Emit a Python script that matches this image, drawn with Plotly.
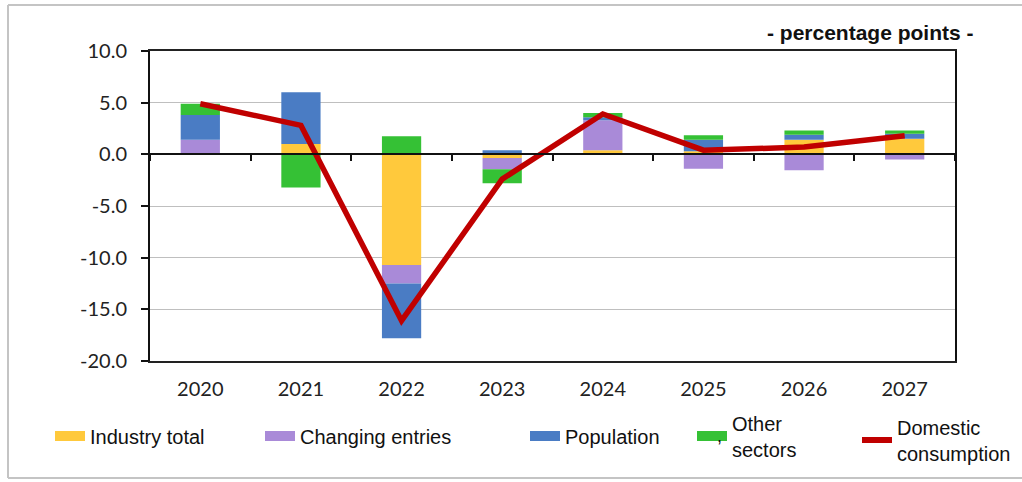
import plotly.graph_objects as go

years = ["2020", "2021", "2022", "2023", "2024", "2025", "2026", "2027"]
industry_total = [0.0, 1.0, -10.7, -0.35, 0.4, 0.3, 1.4, 1.5]
changing_entries = [1.4, 0.0, -1.8, -1.1, 2.9, -1.4, -1.55, -0.5]
population = [2.4, 5.0, -5.3, 0.4, 0.3, 1.1, 0.5, 0.5]
other_sectors = [1.1, -3.2, 1.75, -1.35, 0.4, 0.45, 0.4, 0.3]
domestic_consumption = [4.9, 2.8, -16.1, -2.4, 3.9, 0.4, 0.7, 1.8]

y_ticks = [10, 5, 0, -5, -10, -15, -20]
y_tick_labels = [f"{v:.1f}" for v in y_ticks]

names = ["Industry total", "Changing entries", "Population", "Other<br>sectors",
         "Domestic<br>consumption"]
colors = ["#FFC93C", "#A98AD8", "#4A7CC4", "#35C135", "#C00000"]

W, H = 1022, 482
L, R, T, B = 150, 955, 51, 361


def px_x(p):
    return (p - L) / (R - L)


def px_y(p):
    return (B - p) / (B - T)


fig = go.Figure()
series = [industry_total, changing_entries, population, other_sectors]
for vals, nm, col in zip(series, names[:4], colors[:4]):
    fig.add_trace(go.Bar(x=years, y=vals, name=nm.replace("<br>", " "),
                         marker=dict(color=col, line=dict(width=0)),
                         showlegend=False))

fig.add_trace(go.Scatter(x=years, y=domestic_consumption, mode="lines",
                         name="Domestic consumption", xaxis="x2",
                         line=dict(color=colors[4], width=5.5),
                         showlegend=False))

# legend entries
leg_left_px = [50, 260, 525, 692, 857]
leg_mid_px = [436, 436, 436, 436, 440]
leg_widths = [10, 10, 10, 10, 6]
layout_legends = {}
for i, (nm, col) in enumerate(zip(names, colors)):
    key = "legend" if i == 0 else f"legend{i + 1}"
    fig.add_trace(go.Scatter(x=[None], y=[None], mode="lines", name=nm,
                             line=dict(color=col, width=leg_widths[i]),
                             legend=key, showlegend=True, hoverinfo="skip"))
    layout_legends[key] = dict(
        x=px_x(leg_left_px[i]), y=px_y(leg_mid_px[i]),
        xanchor="left", yanchor="middle", orientation="h",
        bgcolor="rgba(0,0,0,0)", borderwidth=0,
        font=dict(family="Liberation Sans, Arial", size=20, color="#111111"),
    )

frame = dict(color="#C4C4C4", width=2)
fig.update_layout(
    width=W, height=H,
    margin=dict(l=L, r=W - R, t=T, b=H - B, pad=0, autoexpand=False),
    paper_bgcolor="white", plot_bgcolor="white",
    barmode="relative", bargap=0.61,
    xaxis=dict(type="category", showline=True, linecolor="#222222", linewidth=2,
               mirror=True, ticks="", showgrid=False,
               tickfont=dict(family="Lato", size=20, color="#222222"),
               ticklabelstandoff=9),
    xaxis2=dict(type="category", overlaying="x", matches="x", anchor="free",
                position=(0 - y_ticks[-1]) / (y_ticks[0] - y_ticks[-1]),
                side="bottom", showline=True, linecolor="#111111", linewidth=2,
                ticks="outside", tickson="boundaries", ticklen=6, tickwidth=2,
                tickcolor="#111111", showticklabels=False, showgrid=False),
    yaxis=dict(range=[y_ticks[-1], y_ticks[0]], tickvals=y_ticks,
               ticktext=y_tick_labels,
               showline=True, linecolor="#111111", linewidth=2, mirror=True,
               ticks="outside", ticklen=7, tickwidth=2, tickcolor="#111111",
               showgrid=True, gridcolor="#BFBFBF", gridwidth=1, zeroline=False,
               tickfont=dict(family="Lato", size=20, color="#222222"),
               ticklabelstandoff=10),
    annotations=[
        dict(text="<b>- percentage points -</b>", xref="paper", yref="paper",
             x=px_x(976), y=px_y(32), xanchor="right", yanchor="middle",
             showarrow=False,
             font=dict(family="Liberation Sans, Arial", size=21, color="#111111")),
        dict(text=",", xref="paper", yref="paper", x=px_x(719), y=px_y(436),
             xanchor="center", yanchor="middle", showarrow=False,
             font=dict(family="Liberation Sans, Arial", size=18, color="#111111")),
    ],
    shapes=[
        dict(type="line", xref="paper", yref="paper", x0=px_x(8), x1=px_x(1022),
             y0=px_y(5), y1=px_y(5), line=frame, layer="below"),
        dict(type="line", xref="paper", yref="paper", x0=px_x(8), x1=px_x(1022),
             y0=px_y(478), y1=px_y(478), line=frame, layer="below"),
        dict(type="line", xref="paper", yref="paper", x0=px_x(8), x1=px_x(8),
             y0=px_y(5), y1=px_y(478), line=frame, layer="below"),
    ],
    **layout_legends,
)

fig.write_html("out.html", config={"displayModeBar": False},
               post_script="document.body.style.margin='0';"
                           "document.body.style.overflow='hidden';")
